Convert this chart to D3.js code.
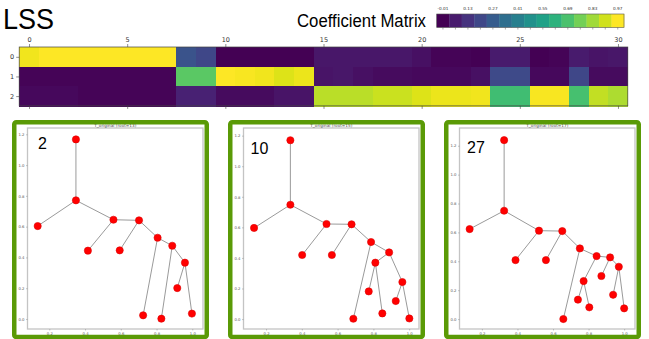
<!DOCTYPE html>
<html>
<head>
<meta charset="utf-8">
<script src="https://cdn.jsdelivr.net/npm/d3@7"></script>
<style>
  html, body { margin: 0; padding: 0; background: #fff; }
  svg { display: block; }
  .tick text { font-family: "DejaVu Sans", sans-serif; }
</style>
</head>
<body>
<svg id="chart" width="649" height="339"></svg>
<script>
// ---- coefficient matrix (3 rows x 31 columns) ----
const matrixRows = [0, 1, 2];
const columnTicks = [0, 5, 10, 15, 20, 25, 30];
const coefRow0 = [0.95, 0.97, 0.97, 0.97, 0.97, 0.97, 0.97, 0.97, 0.24, 0.20,
                  -0.01, -0.01, -0.01, -0.01, -0.01, 0.05, 0.05, 0.05, 0.05, 0.05,
                  0.03, 0.0, 0.0, -0.01, 0.06, 0.06, -0.01, 0.0, 0.06, 0.04, 0.05];
const coefRow1 = [0.0, 0.0, 0.0, 0.0, 0.0, 0.0, 0.0, 0.0, 0.72, 0.72,
                  0.97, 0.96, 0.95, 0.92, 0.94, 0.04, 0.05, 0.03, 0.02, 0.02,
                  0.01, 0.01, 0.01, 0.03, 0.21, 0.21, 0.01, 0.01, 0.20, 0.02, 0.02];
const coefRow2 = [0.01, 0.01, 0.01, 0.0, 0.0, 0.0, 0.0, 0.0, 0.08, 0.08,
                  0.02, 0.02, 0.02, 0.04, 0.04, 0.87, 0.87, 0.87, 0.89, 0.89,
                  0.92, 0.94, 0.94, 0.95, 0.67, 0.67, 0.96, 0.96, 0.68, 0.88, 0.85];
const coefMatrix = [coefRow0, coefRow1, coefRow2];

// ---- colour bar levels ----
const colorLevels = [-0.01, 0.06, 0.13, 0.20, 0.27, 0.34, 0.41, 0.48, 0.55, 0.62, 0.69, 0.76, 0.83, 0.90, 0.97];
const colorTickLabels = ["-0.01", "0.13", "0.27", "0.41", "0.55", "0.69", "0.83", "0.97"];

// ---- trees ----
const treeIds = [2, 10, 27];
const treeRoots = [13, 15, 17];
const treeNodes2 = [[0.349, 1.167], [0.349, 0.771], [0.135, 0.604], [0.559, 0.645], [0.416, 0.444],
                    [0.702, 0.641], [0.594, 0.446], [0.806, 0.528], [0.725, 0.024], [0.888, 0.476],
                    [0.827, 0.002], [0.959, 0.366], [0.916, 0.201], [0.998, 0.035]];
const treeEdges2 = [[0, 1], [1, 2], [1, 3], [3, 4], [3, 5], [5, 6], [5, 7], [7, 8], [7, 9],
                    [9, 10], [9, 11], [11, 12], [11, 13]];
const treeNodes10 = [[0.336, 1.170], [0.336, 0.748], [0.133, 0.596], [0.538, 0.622], [0.402, 0.419],
                     [0.678, 0.620], [0.568, 0.419], [0.787, 0.504], [0.688, 0.002], [0.888, 0.436],
                     [0.811, 0.369], [0.774, 0.181], [0.850, 0.037], [0.962, 0.242], [0.925, 0.118],
                     [1.001, 0.004]];
const treeEdges10 = [[0, 1], [1, 2], [1, 3], [3, 4], [3, 5], [5, 6], [5, 7], [7, 8], [7, 9],
                     [9, 10], [10, 11], [10, 12], [9, 13], [13, 14], [13, 15]];
const treeNodes27 = [[0.325, 1.239], [0.325, 0.750], [0.131, 0.623], [0.521, 0.612], [0.389, 0.408],
                     [0.652, 0.609], [0.560, 0.408], [0.751, 0.489], [0.658, 0.000], [0.845, 0.436],
                     [0.772, 0.263], [0.740, 0.134], [0.804, 0.081], [0.921, 0.427], [0.872, 0.298],
                     [0.970, 0.362], [0.938, 0.168], [1.000, 0.074]];
const treeEdges27 = [[0, 1], [1, 2], [1, 3], [3, 4], [3, 5], [5, 6], [5, 7], [7, 8], [7, 9],
                     [9, 10], [10, 11], [10, 12], [9, 13], [13, 14], [13, 15], [15, 16], [15, 17]];
const treeNodeSets = [treeNodes2, treeNodes10, treeNodes27];
const treeEdgeSets = [treeEdges2, treeEdges10, treeEdges27];
// axis limits of each tree plot
const treeXLimits = [[0.078, 1.060], [0.074, 1.055], [0.074, 1.061]];
const treeYLimits = [[-0.065, 1.241], [-0.065, 1.250], [-0.069, 1.323]];
const treeXTicks = [0.2, 0.4, 0.6, 0.8, 1.0];
const treeYTicks = [0.0, 0.2, 0.4, 0.6, 0.8, 1.0, 1.2];

const svg = d3.select("#chart");
const sans = "'Liberation Sans', Arial, Helvetica, sans-serif";

// ---- headings ----
svg.append("text").attr("x", 3).attr("y", 29)
  .attr("font-family", sans).attr("font-size", 29)
  .attr("textLength", 51).attr("lengthAdjust", "spacingAndGlyphs")
  .attr("fill", "#000").text("LSS");
svg.append("text").attr("x", 297).attr("y", 27)
  .attr("font-family", sans).attr("font-size", 17.5)
  .attr("textLength", 129).attr("lengthAdjust", "spacingAndGlyphs")
  .attr("fill", "#000").text("Coefficient Matrix");

// ---- colour scale (viridis over the bar range) ----
const color = d3.scaleSequential(d3.interpolateViridis).domain([-0.01, 0.97]).clamp(true);

// ---- colour bar ----
const cbX = d3.scaleLinear().domain([-0.045, 1.005]).range([436.7, 624]);
const cbTop = 14, cbBottom = 27.5;
const cb = svg.append("g");
cb.selectAll("rect").data(colorLevels).join("rect")
  .attr("x", d => cbX(d - 0.035)).attr("y", cbTop)
  .attr("width", d => cbX(d + 0.035) - cbX(d - 0.035) + 0.3)
  .attr("height", cbBottom - cbTop)
  .attr("fill", d => color(d));
cb.append("rect").attr("x", cbX(-0.045)).attr("y", cbTop)
  .attr("width", cbX(1.005) - cbX(-0.045)).attr("height", cbBottom - cbTop)
  .attr("fill", "none").attr("stroke", "#555").attr("stroke-width", 0.6);
cb.selectAll("line.cbt").data(colorLevels).join("line")
  .attr("x1", d => cbX(d)).attr("x2", d => cbX(d))
  .attr("y1", cbBottom).attr("y2", cbBottom + 2)
  .attr("stroke", "#555").attr("stroke-width", 0.5);
cb.selectAll("text").data(colorTickLabels).join("text")
  .attr("x", d => cbX(+d)).attr("y", 10)
  .attr("text-anchor", "middle")
  .attr("font-family", "'DejaVu Sans', sans-serif").attr("font-size", 4.2)
  .attr("fill", "#333").text(d => d);

// ---- heatmap ----
const hx = d3.scaleLinear().domain([-0.5, 30.5]).range([19.2, 627.8]);
const hy = d3.scaleLinear().domain([-0.5, 2.5]).range([47, 105.9]);
const cells = [];
coefMatrix.forEach((row, r) => row.forEach((v, c) => cells.push({ r, c, v })));
const hm = svg.append("g").attr("shape-rendering", "crispEdges");
hm.selectAll("rect").data(cells).join("rect")
  .attr("x", d => hx(d.c - 0.5)).attr("y", d => hy(d.r - 0.5))
  .attr("width", hx(1) - hx(0) + 0.6).attr("height", hy(1) - hy(0) + 0.6)
  .attr("fill", d => color(d.v));
svg.append("rect").attr("x", hx(-0.5)).attr("y", hy(-0.5))
  .attr("width", hx(30.5) - hx(-0.5)).attr("height", hy(2.5) - hy(-0.5))
  .attr("fill", "none").attr("stroke", "#444").attr("stroke-width", 0.7);

function styleAxis(g, size) {
  g.select(".domain").remove();
  g.selectAll(".tick line").attr("stroke", "#444").attr("stroke-width", 0.6);
  g.selectAll(".tick text").attr("font-size", size).attr("fill", "#333");
}
svg.append("g").attr("transform", `translate(0,${hy(-0.5)})`)
  .call(d3.axisTop(hx).tickValues(columnTicks).tickSize(3).tickPadding(2).tickFormat(d3.format("d")))
  .call(g => styleAxis(g, 6.5));
svg.append("g").attr("transform", `translate(0,${hy(2.5)})`)
  .call(d3.axisBottom(hx).tickValues(columnTicks).tickSize(3).tickFormat(""))
  .call(g => styleAxis(g, 6.5));
svg.append("g").attr("transform", `translate(${hx(-0.5)},0)`)
  .call(d3.axisLeft(hy).tickValues(matrixRows).tickSize(3).tickPadding(2).tickFormat(d3.format("d")))
  .call(g => styleAxis(g, 6.5));

// ---- tree panels ----
const panelLeft = [12, 228, 444];
const panelW = 197;
const labelPos = [[38, 149], [250.5, 153.5], [467, 153]];

treeIds.forEach((id, i) => {
  const ox = panelLeft[i];
  const g = svg.append("g");
  const axL = ox + 15.5, axR = ox + 191, axT = 128, axB = 329;
  const x = d3.scaleLinear().domain(treeXLimits[i]).range([axL, axR]);
  const y = d3.scaleLinear().domain(treeYLimits[i]).range([axB, axT]);

  // plot frame
  g.append("rect").attr("x", axL).attr("y", axT)
    .attr("width", axR - axL).attr("height", axB - axT)
    .attr("fill", "#fff").attr("stroke", "#c4c4c4").attr("stroke-width", 1.3);

  const xa = g.append("g").attr("transform", `translate(0,${axB})`)
    .call(d3.axisBottom(x).tickValues(treeXTicks).tickSize(1.5).tickPadding(1.5).tickFormat(d3.format(".1f")));
  const ya = g.append("g").attr("transform", `translate(${axL},0)`)
    .call(d3.axisLeft(y).tickValues(treeYTicks).tickSize(1.5).tickPadding(1.5).tickFormat(d3.format(".1f")));
  [xa, ya].forEach(a => {
    a.select(".domain").remove();
    a.selectAll(".tick line").attr("stroke", "#777").attr("stroke-width", 0.4);
    a.selectAll(".tick text").attr("font-size", 3.8).attr("fill", "#555");
  });

  g.append("text").attr("x", (axL + axR) / 2).attr("y", 126.6)
    .attr("text-anchor", "middle")
    .attr("font-family", "'DejaVu Sans', sans-serif").attr("font-size", 4.2)
    .attr("fill", "#444").text(`T_original (root=${treeRoots[i]})`);

  const nodes = treeNodeSets[i];
  g.selectAll("line.edge").data(treeEdgeSets[i]).join("line")
    .attr("class", "edge")
    .attr("x1", e => x(nodes[e[0]][0])).attr("y1", e => y(nodes[e[0]][1]))
    .attr("x2", e => x(nodes[e[1]][0])).attr("y2", e => y(nodes[e[1]][1]))
    .attr("stroke", "#9a9a9a").attr("stroke-width", 1);
  g.selectAll("circle").data(nodes).join("circle")
    .attr("cx", d => x(d[0])).attr("cy", d => y(d[1])).attr("r", 3.6)
    .attr("fill", "#f00").attr("stroke", "#d00").attr("stroke-width", 0.6);

  g.append("text").attr("x", labelPos[i][0]).attr("y", labelPos[i][1])
    .attr("font-family", sans).attr("font-size", 16).attr("fill", "#000")
    .text(id);

  // green frame around the panel
  g.append("rect").attr("x", ox + 2.25).attr("y", 122.25)
    .attr("width", panelW - 4.5).attr("height", 337 - 122.25)
    .attr("rx", 2).attr("fill", "none")
    .attr("stroke", "#5a9a06").attr("stroke-width", 4.5);
});
</script>
</body>
</html>
